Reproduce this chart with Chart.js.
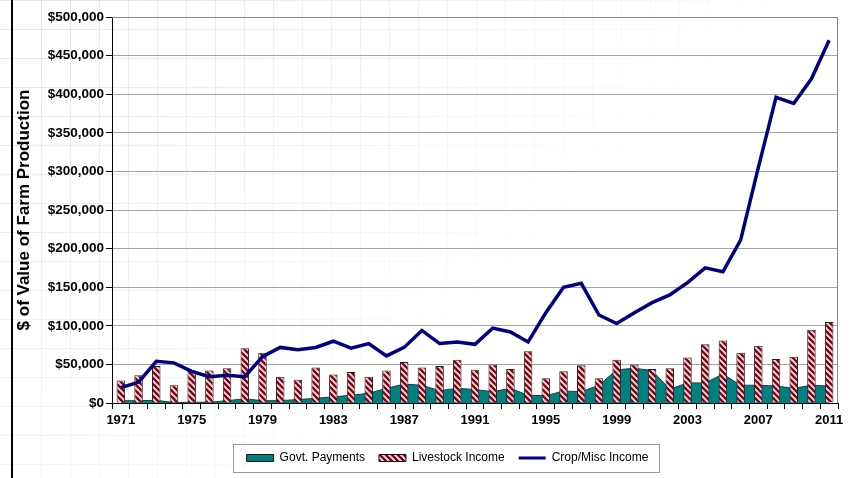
<!DOCTYPE html>
<html>
<head>
<meta charset="utf-8">
<script src="https://cdn.jsdelivr.net/npm/chart.js@4"></script>
<style>
  html, body { margin: 0; padding: 0; background: #fff; }
  #wrap { position: relative; width: 851px; height: 478px; overflow: hidden; }
  #bg {
    position: absolute; left: 0; top: 0; width: 851px; height: 478px;
    background-image:
      linear-gradient(to right, rgba(200, 195, 235, 0.45) 1px, transparent 1px),
      linear-gradient(to bottom, rgba(200, 195, 235, 0.45) 1px, transparent 1px);
    background-size: 29px 29px;
    background-position: 12px 0;
    -webkit-mask-image: linear-gradient(135deg, #000 0%, rgba(0,0,0,0.5) 35%, transparent 65%);
    mask-image: linear-gradient(135deg, #000 0%, rgba(0,0,0,0.5) 35%, transparent 65%);
  }
  #rule { position: absolute; left: 11px; top: 0; width: 2px; height: 478px; background: #000; }
  canvas { position: absolute; left: 0; top: 0; }
</style>
</head>
<body>
<div id="wrap">
  <div id="bg"></div>
  <div id="rule"></div>
  <canvas id="farmChart" width="851" height="478"></canvas>
</div>
<script>
const years = ["1971","1972","1973","1974","1975","1976","1977","1978","1979","1980",
  "1981","1982","1983","1984","1985","1986","1987","1988","1989","1990",
  "1991","1992","1993","1994","1995","1996","1997","1998","1999","2000",
  "2001","2002","2003","2004","2005","2006","2007","2008","2009","2010","2011"];

const govtPayments = [3000,3000,3500,500,1000,1000,3000,5500,3000,3000,
  4500,6000,8000,10000,12500,19000,24500,23000,16000,19000,
  17500,14500,19000,10000,9500,15500,14700,23000,43000,45000,
  42000,18000,26000,26000,37500,23000,23000,22000,19000,23000,22000];

const livestockIncome = [29000,36000,48000,23000,42000,42000,45000,71000,65000,34000,
  30000,46000,37000,40000,34000,42000,53000,46000,48000,56000,
  43000,50000,44000,67000,32000,41000,49000,32000,56000,50000,
  44000,45000,59000,76000,81000,65000,74000,57000,60000,95000,105000];

const cropIncome = [20000,27000,54000,52000,41000,34000,36000,34000,60000,72000,
  69000,72000,80000,71000,77000,61000,72000,94000,77000,79000,
  76000,97000,92000,79000,117000,150000,155000,114000,103000,117000,
  130000,140000,156000,175000,170000,211000,305000,396000,388000,420000,470000];

const yTicks = [0,50000,100000,150000,200000,250000,300000,350000,400000,450000,500000];

Chart.defaults.font.family = "'Liberation Sans', Arial, sans-serif";
Chart.defaults.color = "#000";

// red / white diagonal hatch for the livestock bars
function makeHatch() {
  const c = document.createElement("canvas");
  c.width = 6; c.height = 6;
  const p = c.getContext("2d");
  p.fillStyle = "#8e0000";
  p.fillRect(0, 0, 6, 6);
  p.strokeStyle = "#e4defa";
  p.lineWidth = 1.9;
  p.beginPath();
  p.moveTo(-1, -1); p.lineTo(7, 7);
  p.moveTo(-4, 2); p.lineTo(4, 10);
  p.moveTo(2, -4); p.lineTo(10, 4);
  p.stroke();
  return p.createPattern(c, "repeat");
}
const hatch = makeHatch();

const framePlugin = {
  id: "frame",
  afterLayout(chart) {
    // legend sits a little right of centre in the original
    chart.legend.left += 23;
    chart.legend.right += 23;
  },
  beforeDatasetsDraw(chart) {
    const { ctx, chartArea: a } = chart;
    ctx.save();
    ctx.strokeStyle = "#888";
    ctx.lineWidth = 1;
    ctx.beginPath();
    ctx.moveTo(a.left, a.top + 0.5);
    ctx.lineTo(a.right - 0.5, a.top + 0.5);
    ctx.lineTo(a.right - 0.5, a.bottom);
    ctx.stroke();
    ctx.restore();
  },
  afterDraw(chart) {
    const boxes = chart.legend.legendHitBoxes;
    if (!boxes || !boxes.length) return;
    const l = Math.min(...boxes.map(b => b.left));
    const r = Math.max(...boxes.map(b => b.left + b.width));
    const t = boxes[0].top, h = boxes[0].height;
    const ctx = chart.ctx;
    ctx.save();
    ctx.strokeStyle = "#999";
    ctx.lineWidth = 1;
    ctx.strokeRect(Math.round(l - 14) + 0.5, Math.round(t - 8) + 0.5, Math.round(r - l + 24), Math.round(h + 16));
    ctx.restore();
  }
};

new Chart(document.getElementById("farmChart").getContext("2d"), {
  type: "bar",
  data: {
    labels: years,
    datasets: [
      {
        type: "line",
        label: "Govt. Payments",
        data: govtPayments,
        fill: "origin",
        backgroundColor: "#008080",
        borderColor: "#1f3f3f",
        borderWidth: 1,
        pointRadius: 0,
        tension: 0,
        order: 3
      },
      {
        type: "bar",
        label: "Livestock Income",
        data: livestockIncome,
        backgroundColor: hatch,
        borderColor: "#222",
        borderWidth: 1,
        categoryPercentage: 1,
        barPercentage: 0.48,
        order: 2
      },
      {
        type: "line",
        label: "Crop/Misc Income",
        data: cropIncome,
        fill: false,
        borderColor: "#000080",
        borderWidth: 3.5,
        pointRadius: 0,
        tension: 0,
        order: 1
      }
    ]
  },
  options: {
    responsive: false,
    animation: false,
    layout: { padding: { left: 11, right: 13, top: 17, bottom: 4 } },
    plugins: {
      tooltip: { enabled: false },
      legend: {
        position: "bottom",
        labels: {
          usePointStyle: true,
          pointStyleWidth: 27,
          boxHeight: 7,
          padding: 14,
          font: { size: 12 },
          sort: (a, b) => a.datasetIndex - b.datasetIndex,
          generateLabels(chart) {
            const items = Chart.defaults.plugins.legend.labels.generateLabels(chart);
            items.forEach(it => {
              if (it.datasetIndex === 2) {
                it.pointStyle = "line";
                it.lineWidth = 3;
                it.strokeStyle = "#000080";
              } else {
                it.pointStyle = "rect";
                it.lineWidth = 1;
                it.strokeStyle = "#111";
              }
            });
            return items;
          }
        }
      }
    },
    scales: {
      x: {
        grid: { drawOnChartArea: false, offset: true, color: "#000", tickLength: 6 },
        border: { color: "#000", width: 1 },
        ticks: {
          autoSkip: false,
          maxRotation: 0,
          padding: 4,
          font: { size: 13, weight: "bold" },
          callback: (v, i) => (i % 4 === 0 ? years[i] : "")
        },
        afterFit(scale) { scale.height = 35; }
      },
      y: {
        min: 0,
        max: 500000,
        afterBuildTicks(scale) { scale.ticks = yTicks.map(v => ({ value: v })); },
        grid: { color: "#a4a4a4", tickColor: "#000", tickLength: 6 },
        border: { color: "#000", width: 1 },
        ticks: {
          padding: 2,
          font: { size: 13.5, weight: "bold" },
          callback: v => "$" + v.toLocaleString("en-US")
        },
        title: {
          display: true,
          text: "$ of Value of Farm Production",
          font: { size: 17, weight: "bold" },
          padding: { top: 3, bottom: 4 }
        },
        afterFit(scale) { scale.width = 101; }
      }
    }
  },
  plugins: [framePlugin]
});
</script>
</body>
</html>
